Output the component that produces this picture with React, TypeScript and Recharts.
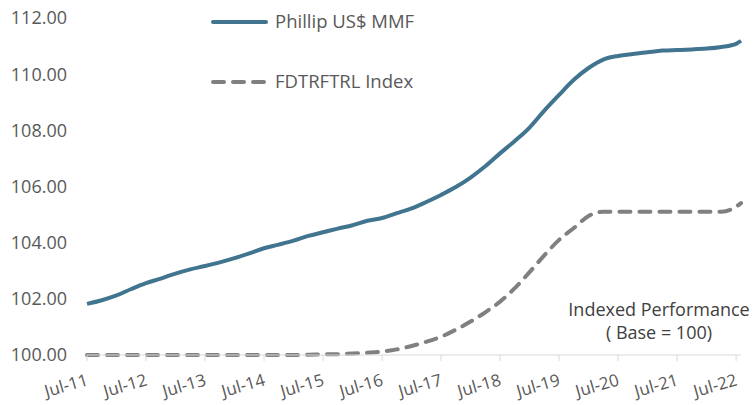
import { LineChart, Line, XAxis, YAxis } from "recharts";

// quarterly readings, Jul-11 .. Jul-22, plus the last month
const periods = [
  "Jul-11", "Oct-11", "Jan-12", "Apr-12", "Jul-12", "Oct-12", "Jan-13", "Apr-13",
  "Jul-13", "Oct-13", "Jan-14", "Apr-14", "Jul-14", "Oct-14", "Jan-15", "Apr-15",
  "Jul-15", "Oct-15", "Jan-16", "Apr-16", "Jul-16", "Oct-16", "Jan-17", "Apr-17",
  "Jul-17", "Oct-17", "Jan-18", "Apr-18", "Jul-18", "Oct-18", "Jan-19", "Apr-19",
  "Jul-19", "Oct-19", "Jan-20", "Apr-20", "Jul-20", "Oct-20", "Jan-21", "Apr-21",
  "Jul-21", "Oct-21", "Jan-22", "Apr-22", "Jul-22", "Aug-22",
];

const phillipMmf = [
  101.82, 101.95, 102.12, 102.35, 102.56, 102.72, 102.9, 103.05,
  103.17, 103.3, 103.45, 103.62, 103.8, 103.93, 104.07, 104.24,
  104.37, 104.5, 104.62, 104.78, 104.88, 105.05, 105.22, 105.45,
  105.7, 105.98, 106.32, 106.72, 107.18, 107.62, 108.1, 108.7,
  109.26, 109.8, 110.22, 110.52, 110.65, 110.72, 110.78, 110.84,
  110.86, 110.88, 110.91, 110.97, 111.08, 111.19,
];

const fdtrftrl = [
  100.0, 100.0, 100.0, 100.0, 100.0, 100.0, 100.0, 100.0,
  100.0, 100.0, 100.0, 100.0, 100.0, 100.0, 100.0, 100.01,
  100.02, 100.03, 100.05, 100.08, 100.12, 100.2, 100.32, 100.47,
  100.65, 100.9, 101.19, 101.52, 101.9, 102.38, 102.95, 103.55,
  104.1, 104.52, 104.95, 105.1, 105.1, 105.1, 105.1, 105.1,
  105.1, 105.1, 105.1, 105.1, 105.28, 105.41,
];

const tickLabels = [
  "Jul-11", "Jul-12", "Jul-13", "Jul-14", "Jul-15", "Jul-16",
  "Jul-17", "Jul-18", "Jul-19", "Jul-20", "Jul-21", "Jul-22",
];
const yTicks = [100, 102, 104, 106, 108, 110, 112];

const MONTHS = ["Jan", "Feb", "Mar", "Apr", "May", "Jun", "Jul", "Aug", "Sep", "Oct", "Nov", "Dec"];
// months elapsed since Jul-11
const monthOffset = (label: string) => {
  const [mon, yy] = label.split("-");
  return (Number(yy) - 11) * 12 + MONTHS.indexOf(mon) - 6;
};

const data = periods.map((p, i) => ({
  m: monthOffset(p),
  mmf: phillipMmf[i],
  idx: fdtrftrl[i],
}));

const FONT = "'Open Sans', sans-serif";
const BLUE = "#41758f";
const GREY = "#808080";

const XTick = ({ x, y, payload }: any) => (
  <g transform={`translate(${x + 2},${y + 22}) rotate(-16)`}>
    <text x={0} y={0} textAnchor="end" fill="#595959" fontSize={17} fontFamily={FONT}>
      {tickLabels[payload.value / 12]}
    </text>
  </g>
);

export default function App() {
  return (
    <div style={{ position: "absolute", left: 0, top: 0, width: 755, height: 405, background: "#fff" }}>
      <LineChart width={755} height={405} data={data} margin={{ top: 18, right: 14, bottom: 0, left: 0 }}>
        <XAxis
          dataKey="m"
          type="number"
          domain={[0, 133]}
          ticks={[0, 12, 24, 36, 48, 60, 72, 84, 96, 108, 120, 132]}
          height={50}
          stroke="#d9d9d9"
          tickSize={6}
          tick={<XTick />}
        />
        <YAxis
          domain={[100, 112]}
          ticks={yTicks}
          width={87}
          axisLine={false}
          tickLine={false}
          tickSize={0}
          tickMargin={20}
          tickFormatter={(v: number) => v.toFixed(2)}
          tick={{ fill: "#595959", fontSize: 18, fontFamily: FONT }}
        />
        <Line
          type="monotone"
          dataKey="idx"
          stroke={GREY}
          strokeWidth={4}
          strokeDasharray="11 9"
          strokeLinecap="round"
          dot={false}
          isAnimationActive={false}
        />
        <Line
          type="monotone"
          dataKey="mmf"
          stroke={BLUE}
          strokeWidth={4}
          dot={false}
          isAnimationActive={false}
        />
      </LineChart>
      <svg width={260} height={100} style={{ position: "absolute", left: 198, top: 0 }}>
        <line x1={15} y1={22} x2={68} y2={22} stroke={BLUE} strokeWidth={4} strokeLinecap="round" />
        <text x={77} y={28} fill="#595959" fontSize={18.5} fontFamily={FONT}>Phillip US$ MMF</text>
        <line x1={15} y1={82} x2={68} y2={82} stroke={GREY} strokeWidth={4} strokeDasharray="11 9" strokeLinecap="round" />
        <text x={77} y={88} fill="#595959" fontSize={18.5} fontFamily={FONT}>FDTRFTRL Index</text>
      </svg>
      <div
        style={{
          position: "absolute",
          left: 559,
          top: 298,
          width: 200,
          textAlign: "center",
          fontFamily: FONT,
          fontSize: 18,
          lineHeight: "23px",
          color: "#404040",
        }}
      >
        Indexed Performance
        <br />( Base = 100)
      </div>
    </div>
  );
}
